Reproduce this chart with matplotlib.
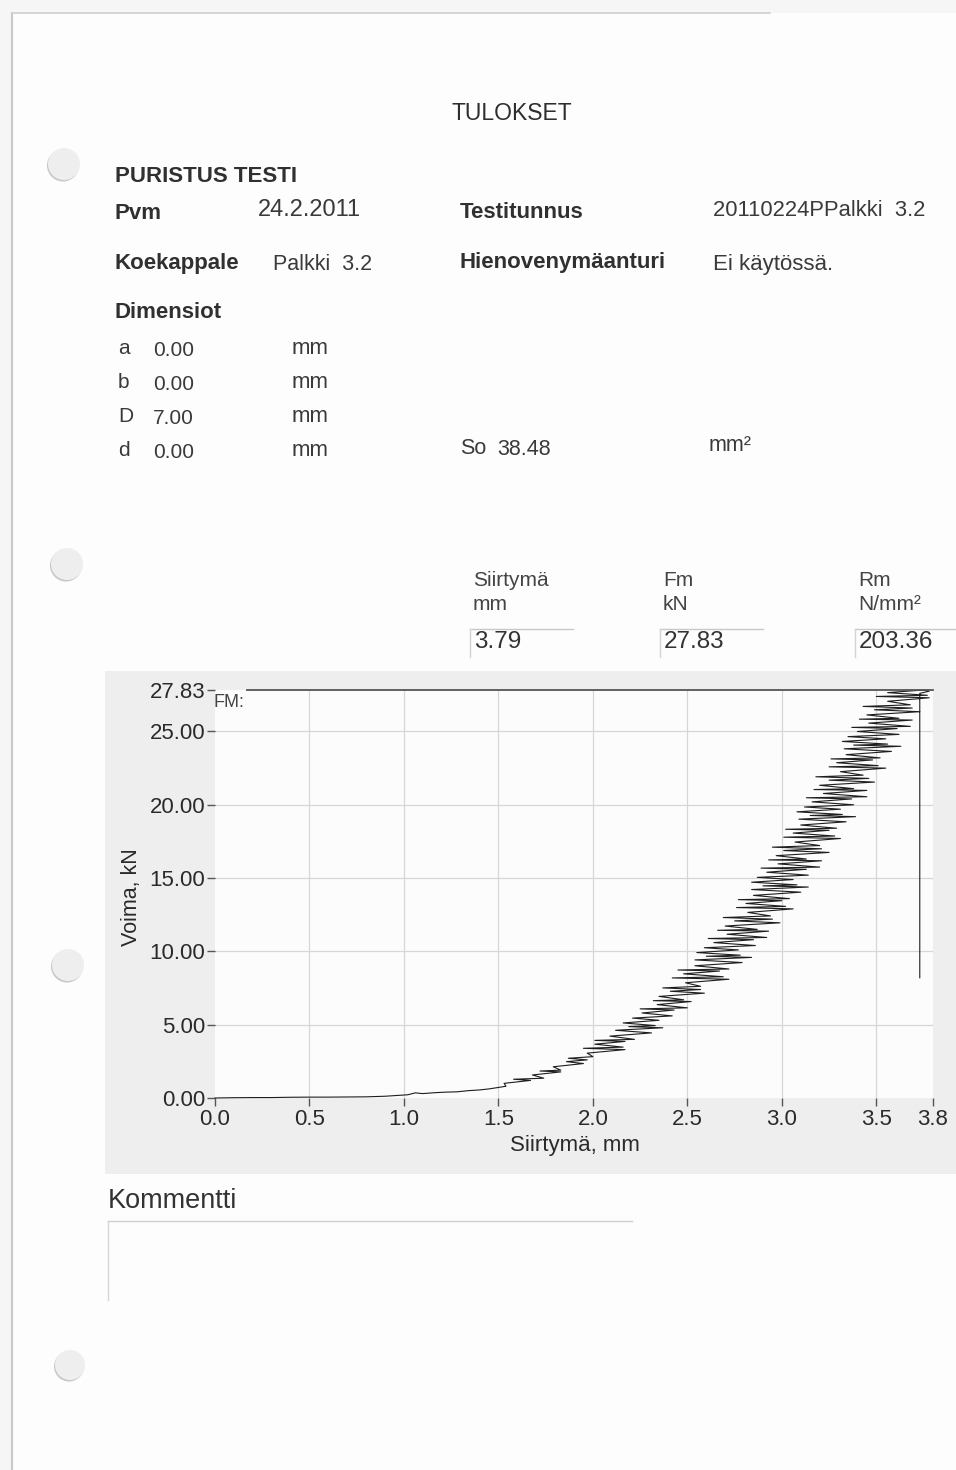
import matplotlib
matplotlib.use('Agg')
import matplotlib.pyplot as plt
from matplotlib import font_manager
from matplotlib.patches import Circle, Rectangle

names = {f.name for f in font_manager.fontManager.ttflist}
SANS = 'Liberation Sans' if 'Liberation Sans' in names else 'DejaVu Sans'

# ---------------- data ----------------
disp_mm = [0.00, 0.10, 0.20, 0.30, 0.40, 0.50, 0.60, 0.70, 0.80, 0.90,
           0.97, 1.02, 1.06, 1.10, 1.16, 1.22, 1.28, 1.34, 1.40, 1.45,
           1.54, 1.53, 1.67, 1.58, 1.74, 1.68, 1.83, 1.72, 1.83, 1.79,
           1.95, 1.86, 1.97, 1.87, 2.00, 1.97, 2.17, 1.95, 2.16, 2.01,
           2.17, 2.01, 2.22, 2.09, 2.31, 2.12, 2.37, 2.19, 2.33, 2.16,
           2.35, 2.21, 2.42, 2.26, 2.43, 2.25, 2.50, 2.34, 2.52, 2.32,
           2.48, 2.35, 2.59, 2.41, 2.57, 2.37, 2.57, 2.49, 2.72, 2.42,
           2.69, 2.48, 2.67, 2.45, 2.72, 2.54, 2.79, 2.54, 2.84, 2.60,
           2.78, 2.55, 2.77, 2.59, 2.86, 2.64, 2.85, 2.61, 2.92, 2.71,
           2.93, 2.66, 2.87, 2.70, 2.99, 2.75, 2.95, 2.69, 2.94, 2.82,
           3.06, 2.76, 3.02, 2.81, 3.00, 2.77, 3.04, 2.85, 3.10, 2.84,
           3.14, 2.90, 3.08, 2.84, 3.06, 2.87, 3.14, 2.92, 3.13, 2.89,
           3.20, 2.98, 3.21, 2.93, 3.13, 2.97, 3.25, 3.01, 3.21, 2.95,
           3.20, 3.07, 3.31, 3.01, 3.28, 3.06, 3.25, 3.02, 3.29, 3.10,
           3.34, 3.09, 3.39, 3.15, 3.32, 3.08, 3.31, 3.12, 3.38, 3.16,
           3.37, 3.13, 3.45, 3.22, 3.45, 3.17, 3.38, 3.20, 3.49, 3.25,
           3.46, 3.18, 3.43, 3.31, 3.55, 3.25, 3.51, 3.29, 3.48, 3.26,
           3.52, 3.34, 3.58, 3.33, 3.63, 3.38, 3.56, 3.32, 3.55, 3.35,
           3.62, 3.40, 3.61, 3.37, 3.68, 3.46, 3.69, 3.41, 3.62, 3.45,
           3.73, 3.49, 3.69, 3.43, 3.68, 3.56, 3.78, 3.50, 3.77, 3.56,
           3.75, 3.78, 3.73, 3.73]
force_kN = [0.00, 0.02, 0.03, 0.03, 0.05, 0.06, 0.06, 0.07, 0.08, 0.12,
            0.18, 0.22, 0.35, 0.30, 0.36, 0.40, 0.42, 0.50, 0.55, 0.62,
            0.80, 1.00, 1.20, 1.28, 1.35, 1.57, 1.78, 1.84, 1.90, 2.13,
            2.35, 2.48, 2.60, 2.71, 2.82, 3.06, 3.30, 3.39, 3.47, 3.67,
            3.86, 3.93, 4.00, 4.22, 4.44, 4.62, 4.79, 4.87, 4.94, 5.12,
            5.30, 5.45, 5.60, 5.80, 6.00, 6.08, 6.15, 6.37, 6.58, 6.64,
            6.70, 6.93, 7.15, 7.28, 7.40, 7.51, 7.62, 7.86, 8.10, 8.19,
            8.27, 8.47, 8.66, 8.73, 8.80, 9.02, 9.24, 9.42, 9.59, 9.67,
            9.74, 9.92, 10.10, 10.25, 10.40, 10.60, 10.80, 10.88, 10.95, 11.17,
            11.38, 11.44, 11.50, 11.73, 11.95, 12.08, 12.20, 12.31, 12.42, 12.66,
            12.90, 12.99, 13.07, 13.27, 13.46, 13.53, 13.60, 13.82, 14.04, 14.22,
            14.39, 14.47, 14.54, 14.72, 14.90, 15.05, 15.20, 15.40, 15.60, 15.68,
            15.75, 15.97, 16.18, 16.24, 16.30, 16.53, 16.75, 16.88, 17.00, 17.11,
            17.22, 17.46, 17.70, 17.79, 17.87, 18.07, 18.26, 18.33, 18.40, 18.62,
            18.84, 19.02, 19.19, 19.27, 19.34, 19.52, 19.70, 19.85, 20.00, 20.20,
            20.40, 20.48, 20.55, 20.77, 20.98, 21.04, 21.10, 21.33, 21.55, 21.68,
            21.80, 21.91, 22.02, 22.26, 22.50, 22.59, 22.67, 22.87, 23.06, 23.13,
            23.20, 23.42, 23.64, 23.82, 23.99, 24.07, 24.14, 24.32, 24.50, 24.65,
            24.80, 25.00, 25.20, 25.28, 25.35, 25.57, 25.78, 25.84, 25.90, 26.13,
            26.35, 26.48, 26.60, 26.71, 26.82, 27.06, 27.30, 27.39, 27.47, 27.65,
            27.83, 27.75, 27.60, 8.20]

fm_kN = 27.83
x_ticks = [0.0, 0.5, 1.0, 1.5, 2.0, 2.5, 3.0, 3.5, 3.8]
x_tick_labels = ['0.0', '0.5', '1.0', '1.5', '2.0', '2.5', '3.0', '3.5', '3.8']
y_ticks = [0.0, 5.0, 10.0, 15.0, 20.0, 25.0, 27.83]
y_tick_labels = ['0.00', '5.00', '10.00', '15.00', '20.00', '25.00', '27.83']

dim_names = ['a', 'b', 'D', 'd']
dim_values = ['0.00', '0.00', '7.00', '0.00']
result_names = ['Siirtymä', 'Fm', 'Rm']
result_units = ['mm', 'kN', 'N/mm²']
result_values = ['3.79', '27.83', '203.36']

n = min(len(disp_mm), len(force_kN))

# ---------------- figure ----------------
W, H = 956, 1470
fig = plt.figure(figsize=(W / 100, H / 100), dpi=100)
fig.patch.set_facecolor('#f6f6f6')

bg = fig.add_axes([0, 0, 1, 1])
bg.set_xlim(0, W)
bg.set_ylim(H, 0)
bg.axis('off')

# page
bg.add_patch(Rectangle((12, 13), W, H, facecolor='#fdfdfd', edgecolor='none', zorder=0))
bg.plot([12, 12], [13, H], color='#c9c9c9', lw=1.5, zorder=1)
bg.plot([12, 770], [13, 13], color='#cfcfcf', lw=1.2, zorder=1)

# punched holes
for cx, cy, r in [(64, 164, 16), (67, 564, 16), (68, 965, 16), (70, 1365, 15)]:
    bg.add_patch(Circle((cx - 1, cy + 1.5), r, facecolor='#c8c8c8', edgecolor='none', zorder=1))
    bg.add_patch(Circle((cx, cy), r, facecolor='#eeeeee', edgecolor='none', zorder=2))

TXT = '#2e2e2e'

def t(x, y, s, size=15, weight='normal', color=TXT, ha='left'):
    bg.text(x, y, s, fontsize=size, fontweight=weight, family=SANS,
            color=color, ha=ha, va='center', zorder=5)

LBL = '#303030'
VAL = '#3a3a3a'
t(452, 113, 'TULOKSET', 16.5)
t(115, 176, 'PURISTUS TESTI', 16, 'bold', color=LBL)
t(115, 213, 'Pvm', 16, 'bold', color=LBL)
t(258, 210, '24.2.2011', 17, color=VAL)
t(460, 212, 'Testitunnus', 16, 'bold', color=LBL)
t(713, 210, '20110224PPalkki  3.2', 15.8, color=VAL)
t(115, 263, 'Koekappale', 16, 'bold', color=LBL)
t(273, 264, 'Palkki  3.2', 15.5, color=VAL)
t(460, 262, 'Hienovenymäanturi', 16, 'bold', color=LBL)
t(713, 264, 'Ei käytössä.', 16, color=VAL)
t(115, 312, 'Dimensiot', 16, 'bold', color=LBL)

for i, (nm, val) in enumerate(zip(dim_names, dim_values)):
    yy = 348 + i * 34
    t(118, yy, nm, 15, color=VAL)
    t(153, yy + 2, val, 15, color=VAL)
    t(292, yy, 'mm', 16, color=VAL)
t(460, 448, 'So', 15.5, color=VAL)
t(497, 449, '38.48', 15.5, color=VAL)
t(709, 445, 'mm²', 15.5, color=VAL)

for i, (nm, un, val) in enumerate(zip(result_names, result_units, result_values)):
    x0 = [473, 663, 858][i]
    t(x0, 580, nm, 15, color='#444444')
    t(x0, 604, un, 15, color='#444444')
    t(x0 + 1, 642, val, 17.5, color='#333333')
    bx = x0 - 3
    bg.plot([bx, bx + 103], [629, 629], color='#c8c8c8', lw=1.0, zorder=3)
    bg.plot([bx, bx], [629, 657], color='#d4d4d4', lw=1.0, zorder=3)

# chart panel
bg.add_patch(Rectangle((105, 671), W - 105, 503, facecolor='#eeeeee', edgecolor='none', zorder=1))

# comment
t(108, 1201, 'Kommentti', 19.5, color='#333333')
bg.plot([108, 632], [1221, 1221], color='#cfcfcf', lw=1.0, zorder=3)
bg.plot([108, 108], [1221, 1300], color='#d6d6d6', lw=1.0, zorder=3)

# ---------------- chart ----------------
x0p, x1p, y0p, y1p = 215, 933, 1098, 690
ax = fig.add_axes([x0p / W, 1 - y0p / H, (x1p - x0p) / W, (y0p - y1p) / H])
ax.set_facecolor('#fcfcfc')
ax.set_xlim(0, 3.8)
ax.set_ylim(0, fm_kN)
for s in ax.spines.values():
    s.set_visible(False)

for xv in x_ticks[1:-1]:
    ax.axvline(xv, color='#d6d6d6', lw=0.9, zorder=1)
for yv in y_ticks[1:-1]:
    ax.axhline(yv, color='#d6d6d6', lw=0.9, zorder=1)

ax.plot(disp_mm[:n], force_kN[:n], color='#1e1e1e', lw=0.8, zorder=3, clip_on=False)
ax.plot([0.17, 3.8], [fm_kN, fm_kN], color='#555555', lw=1.3, zorder=4, clip_on=False)
ax.text(-0.01, 26.95, 'FM:', fontsize=13, family=SANS, color='#444444', va='center', ha='left')

ax.set_xticks(x_ticks)
ax.set_xticklabels(x_tick_labels)
ax.set_yticks(y_ticks)
ax.set_yticklabels(y_tick_labels)
ax.tick_params(axis='both', colors='#555555', labelcolor='#2a2a2a', labelsize=16,
               length=6, width=1, direction='out')
ax.tick_params(axis='x', pad=2)
ax.tick_params(axis='y', pad=1)
for lab in ax.get_xticklabels() + ax.get_yticklabels():
    lab.set_family(SANS)

ax.set_xlabel('Siirtymä, mm', fontsize=16, family=SANS, color='#2a2a2a')
ax.set_ylabel('Voima, kN', fontsize=15.5, family=SANS, color='#2a2a2a')
ax.xaxis.set_label_coords((575 - x0p) / (x1p - x0p), -(1145 - y0p) / (y0p - y1p))
ax.yaxis.set_label_coords(-(215 - 131) / (x1p - x0p), (y0p - 897) / (y0p - y1p))
ax.xaxis.label.set_va('center')
ax.yaxis.label.set_va('center')

fig.savefig('out.png', dpi=100, facecolor=fig.get_facecolor())
